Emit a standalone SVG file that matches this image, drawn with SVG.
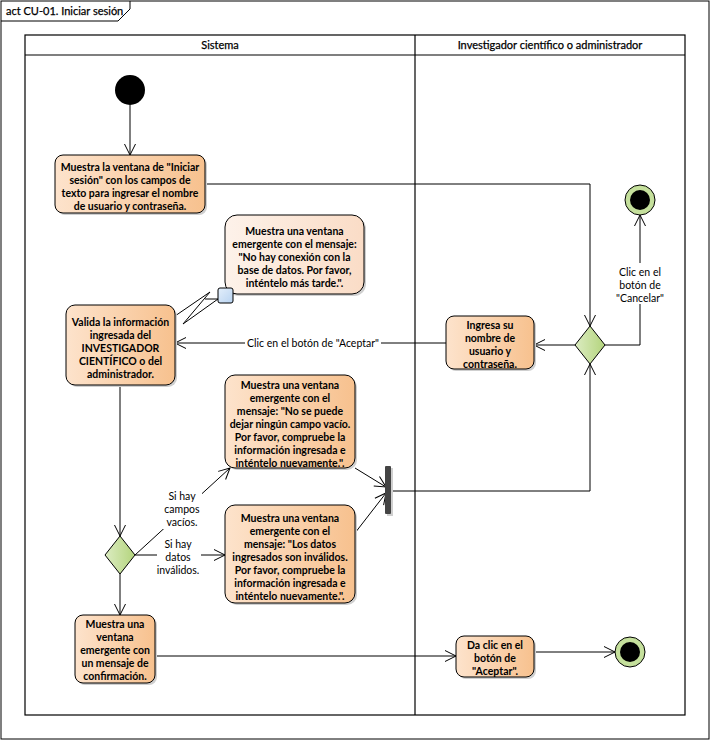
<svg xmlns="http://www.w3.org/2000/svg" width="710" height="740" viewBox="0 0 710 740">
<defs>
<linearGradient id="gOr" x1="0" y1="0" x2="1" y2="0"><stop offset="0" stop-color="#fde3cc"/><stop offset="1" stop-color="#f7c18e"/></linearGradient>
<linearGradient id="gLt" x1="0" y1="0" x2="1" y2="0"><stop offset="0" stop-color="#fdf2ea"/><stop offset="1" stop-color="#fadcc6"/></linearGradient>
<linearGradient id="gGr" x1="0" y1="0" x2="1" y2="0"><stop offset="0" stop-color="#dcecc2"/><stop offset="1" stop-color="#b3d47c"/></linearGradient>
<linearGradient id="gBl" x1="0" y1="0" x2="1" y2="1"><stop offset="0" stop-color="#e4effb"/><stop offset="1" stop-color="#b8d3f1"/></linearGradient>
<marker id="arr" markerUnits="userSpaceOnUse" markerWidth="14" markerHeight="14" viewBox="0 0 14 14" refX="12" refY="7" orient="auto">
<path d="M1,1.5 L12,7 L1,12.5" fill="none" stroke="#000" stroke-width="1"/>
</marker>
</defs>
<style>
.t{font-family:Lato,"Liberation Sans",sans-serif;font-size:10.5px;font-weight:bold;fill:#000;text-anchor:middle}
.l{font-family:Lato,"Liberation Sans",sans-serif;font-size:10.5px;fill:#000;text-anchor:middle}
.h{font-family:Lato,"Liberation Sans",sans-serif;font-size:11px;font-weight:normal;fill:#000;stroke:#000;stroke-width:0.25}
.act{fill:url(#gOr);stroke:#000;stroke-width:1}
.sh{fill:#cfcfcf}
.c{fill:none;stroke:#000;stroke-width:1}
.ca{fill:none;stroke:#000;stroke-width:1;marker-end:url(#arr)}
.lane{fill:none;stroke:#000;stroke-width:1.2}
.bg{fill:#fff}
</style>
<rect width="710" height="740" fill="#fff"/>
<g id="frame">
<rect x="1" y="1" width="708" height="738" class="c"/>
<path d="M1,21 L118,21 L130,9 L130,1" class="c"/>
<text x="6" y="15" class="h">act CU-01. Iniciar sesión</text>
</g>
<g id="lanes">
<rect x="25" y="35" width="660" height="680" class="lane"/>
<line x1="25" y1="55" x2="685" y2="55" class="lane"/>
<line x1="415" y1="35" x2="415" y2="715" class="lane"/>
<text x="220" y="49" class="h" text-anchor="middle">Sistema</text>
<text x="550" y="49" class="h" text-anchor="middle">Investigador científico o administrador</text>
</g>
<g id="connectors">
<line x1="130" y1="105" x2="130" y2="155" class="ca"/>
<polyline points="205,184 590,184 590,326" class="ca"/>
<polyline points="605,345 640,345 640,215" class="ca"/>
<line x1="576" y1="345" x2="534" y2="345" class="ca"/>
<line x1="446" y1="343" x2="175" y2="343" class="ca"/>
<path d="M218,299 L205,299 M175,316 L210,292 L183,324 L218,299" class="c"/>
<line x1="120" y1="385" x2="120" y2="536" class="ca"/>
<line x1="135" y1="555" x2="230" y2="468" class="ca"/>
<line x1="135" y1="555" x2="225" y2="555" class="ca"/>
<line x1="355" y1="468" x2="386" y2="487" class="ca"/>
<line x1="355" y1="533" x2="386" y2="493" class="ca"/>
<polyline points="391,491 590,491 590,364" class="ca"/>
<line x1="120" y1="574" x2="120" y2="615" class="ca"/>
<line x1="155" y1="656" x2="456" y2="656" class="ca"/>
<line x1="534" y1="652" x2="615" y2="652" class="ca"/>
<rect x="613" y="263" width="54" height="41" class="bg"/>
<text class="l"><tspan x="640" y="276">Clic en el</tspan><tspan x="640" y="289">botón de</tspan><tspan x="640" y="302">"Cancelar"</tspan></text>
<rect x="245" y="336" width="136" height="14" class="bg"/>
<text x="313" y="347" class="l">Clic en el botón de "Aceptar"</text>
<rect x="162" y="489" width="40" height="40" class="bg"/>
<text class="l"><tspan x="182" y="500">Si hay</tspan><tspan x="182" y="513">campos</tspan><tspan x="182" y="526">vacíos.</tspan></text>
<rect x="157" y="537" width="44" height="39" class="bg"/>
<text class="l"><tspan x="178" y="548">Si hay</tspan><tspan x="178" y="561">datos</tspan><tspan x="178" y="574">inválidos.</tspan></text>
</g>
<g id="start">
<circle cx="130" cy="90" r="15" fill="#000"/>
</g>
<g id="n1">
<rect x="57" y="157" width="150" height="58" rx="8" class="sh"/>
<rect x="55" y="155" width="150" height="58" rx="8" class="act"/>
<text class="t"><tspan x="130" y="171">Muestra la ventana de "Iniciar</tspan><tspan x="130" y="184">sesión" con los campos de</tspan><tspan x="130" y="197">texto para ingresar el nombre</tspan><tspan x="130" y="210">de usuario y contraseña.</tspan></text>
</g>
<g id="nNoConexion">
<rect x="227" y="217" width="139" height="79" rx="12" class="sh"/>
<rect x="225" y="215" width="139" height="79" rx="12" fill="url(#gLt)" stroke="#000"/>
<text class="t"><tspan x="294.5" y="235">Muestra una ventana</tspan><tspan x="294.5" y="248">emergente con el mensaje:</tspan><tspan x="294.5" y="261">"No hay conexión con la</tspan><tspan x="294.5" y="274">base de datos. Por favor,</tspan><tspan x="294.5" y="287">inténtelo más tarde.".</tspan></text>
</g>
<g id="pin">
<rect x="218" y="288" width="15" height="15" rx="2" fill="url(#gBl)" stroke="#000"/>
</g>
<g id="nValida">
<rect x="68" y="307" width="109" height="80" rx="9" class="sh"/>
<rect x="66" y="305" width="109" height="80" rx="9" class="act"/>
<text class="t"><tspan x="120.5" y="326">Valida la información</tspan><tspan x="120.5" y="339">ingresada del</tspan><tspan x="120.5" y="352">INVESTIGADOR</tspan><tspan x="120.5" y="365">CIENTÍFICO o del</tspan><tspan x="120.5" y="378">administrador.</tspan></text>
</g>
<g id="nIngresa">
<rect x="448" y="318" width="88" height="53" rx="8" class="sh"/>
<rect x="446" y="316" width="88" height="53" rx="8" class="act"/>
<text class="t"><tspan x="490" y="329">Ingresa su</tspan><tspan x="490" y="342">nombre de</tspan><tspan x="490" y="355">usuario y</tspan><tspan x="490" y="368">contraseña.</tspan></text>
</g>
<g id="d1">
<polygon points="590,326 605,345 590,364 575,345" fill="url(#gGr)" stroke="#000"/>
</g>
<g id="endCancel">
<circle cx="640" cy="200" r="15" fill="#c5e09c" stroke="#000"/>
<circle cx="640" cy="200" r="10" fill="#000"/>
</g>
<g id="nVacio">
<rect x="227" y="377" width="130" height="93" rx="10" class="sh"/>
<rect x="225" y="375" width="130" height="93" rx="10" class="act"/>
<text class="t"><tspan x="290" y="389">Muestra una ventana</tspan><tspan x="290" y="402">emergente con el</tspan><tspan x="290" y="415">mensaje: "No se puede</tspan><tspan x="290" y="428">dejar ningún campo vacío.</tspan><tspan x="290" y="441">Por favor, compruebe la</tspan><tspan x="290" y="454">información ingresada e</tspan><tspan x="290" y="467">inténtelo nuevamente.".</tspan></text>
</g>
<g id="nInvalidos">
<rect x="227" y="507" width="130" height="98" rx="10" class="sh"/>
<rect x="225" y="505" width="130" height="98" rx="10" class="act"/>
<text class="t"><tspan x="290" y="522">Muestra una ventana</tspan><tspan x="290" y="535">emergente con el</tspan><tspan x="290" y="548">mensaje: "Los datos</tspan><tspan x="290" y="561">ingresados son inválidos.</tspan><tspan x="290" y="574">Por favor, compruebe la</tspan><tspan x="290" y="587">información ingresada e</tspan><tspan x="290" y="600">inténtelo nuevamente.".</tspan></text>
</g>
<g id="join">
<rect x="387" y="468" width="6" height="48" fill="#cfcfcf"/>
<rect x="385" y="466" width="6" height="48" rx="1" fill="#444"/>
</g>
<g id="d2">
<polygon points="120,536 135,555 120,574 105,555" fill="url(#gGr)" stroke="#000"/>
</g>
<g id="nConfirm">
<rect x="77" y="617" width="80" height="68" rx="8" class="sh"/>
<rect x="75" y="615" width="80" height="68" rx="8" class="act"/>
<text class="t"><tspan x="115" y="628">Muestra una</tspan><tspan x="115" y="641">ventana</tspan><tspan x="115" y="654">emergente con</tspan><tspan x="115" y="667">un mensaje de</tspan><tspan x="115" y="680">confirmación.</tspan></text>
</g>
<g id="nDaClic">
<rect x="458" y="638" width="78" height="41" rx="8" class="sh"/>
<rect x="456" y="636" width="78" height="41" rx="8" class="act"/>
<text class="t"><tspan x="495" y="649">Da clic en el</tspan><tspan x="495" y="662">botón de</tspan><tspan x="495" y="675">"Aceptar".</tspan></text>
</g>
<g id="endOk">
<circle cx="630" cy="652" r="15" fill="#c5e09c" stroke="#000"/>
<circle cx="630" cy="652" r="10" fill="#000"/>
</g>
</svg>
